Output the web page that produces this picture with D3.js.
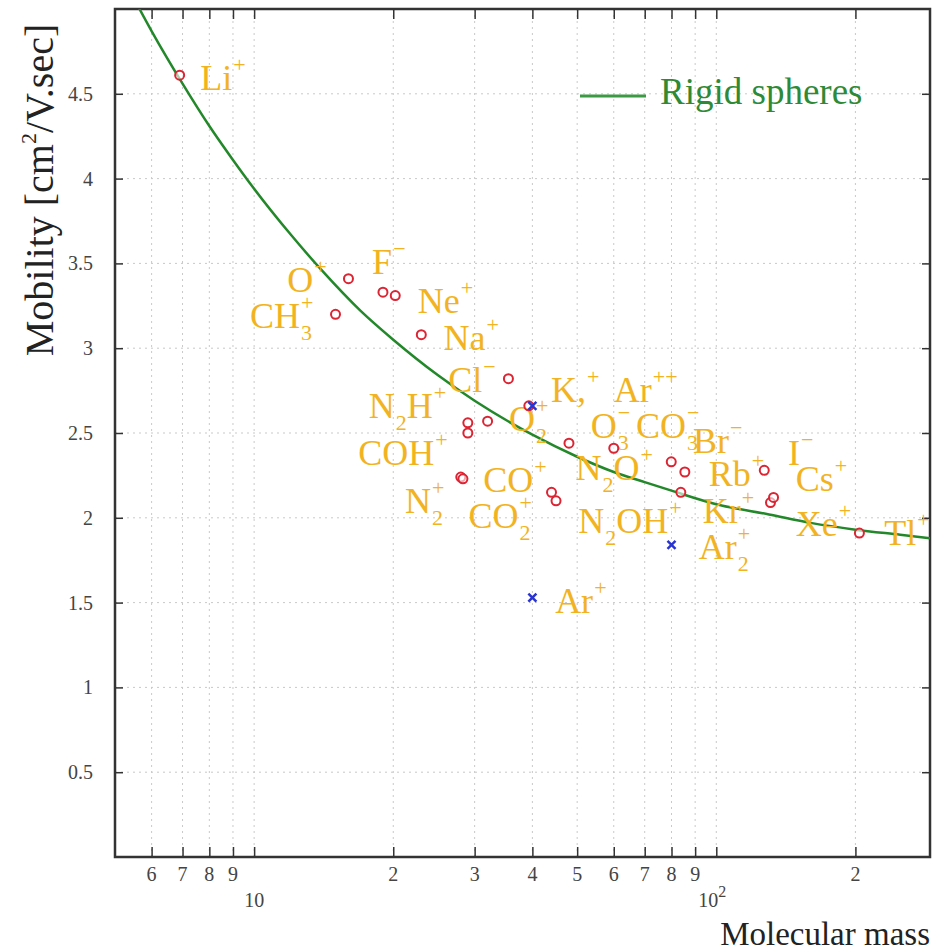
<!DOCTYPE html>
<html>
<head>
<meta charset="utf-8">
<script src="https://cdn.jsdelivr.net/npm/d3@7"></script>
<style>
body { margin: 0; background: #fff; }
text { font-family: "Liberation Serif", "DejaVu Serif", serif; }
</style>
</head>
<body>
<div id="chart"></div>
<script>
var svgWidth = 933;
var svgHeight = 952;
var margin = {top: 9, right: 3, bottom: 95, left: 115};

// rigid spheres curve
var curveMass = [5.4, 6, 7, 8, 9, 10, 12, 14, 17, 20, 25, 30, 40, 50, 60, 70, 80, 100, 130, 160, 200, 250, 290];
var curveMobility = [5.1, 4.87, 4.56, 4.31, 4.11, 3.94, 3.67, 3.46, 3.22, 3.05, 2.84, 2.69, 2.49, 2.36, 2.27, 2.21, 2.16, 2.08, 2.02, 1.97, 1.93, 1.90, 1.88];

// measured ions (red circles)
var ionMass = [6.9, 15, 16, 19, 20.2, 23, 28, 28.3, 29, 29, 32, 35.5, 39.3, 44, 45, 48, 60, 79.9, 85.5, 83.8, 127, 131, 133, 204];
var ionMobility = [4.61, 3.20, 3.41, 3.33, 3.31, 3.08, 2.24, 2.23, 2.56, 2.50, 2.57, 2.82, 2.66, 2.15, 2.10, 2.44, 2.41, 2.33, 2.27, 2.15, 2.28, 2.09, 2.12, 1.91];

// argon ions (blue crosses)
var argonMass = [40, 40, 80];
var argonMobility = [2.66, 1.53, 1.84];

// labels: _ = subscript, ^ = superscript
var labelText = ["Li^+", "O^+", "F^-", "CH_3^+", "Ne^+", "Na^+", "Cl^-", "N_2H^+", "K,^+", "Ar^{++}",
                 "O_2^+", "COH^+", "CO^+", "N_2^+", "CO_2^+", "O_3^-", "CO_3^-", "Br^-", "N_2O^+", "Rb^+",
                 "I^-", "Cs^+", "N_2OH^+", "Kr^+", "Xe^+", "Tl^+", "Ar_2^+", "Ar^+"];
var labelMass = [7.65, 11.8, 18.0, 9.8, 22.6, 25.7, 26.3, 17.7, 43.9, 60,
                 35.6, 16.8, 31.3, 21.2, 29.1, 53.5, 67, 89, 49.6, 96.3,
                 143, 148.6, 50.3, 93.5, 148.6, 231, 91.6, 44.8];
var labelMobility = [4.52, 3.33, 3.44, 3.12, 3.21, 2.99, 2.74, 2.59, 2.68, 2.68,
                     2.51, 2.31, 2.15, 2.03, 1.94, 2.47, 2.47, 2.38, 2.22, 2.19,
                     2.31, 2.16, 1.91, 1.97, 1.89, 1.84, 1.76, 1.44];

var xTicks = [6, 7, 8, 9, 10, 20, 30, 40, 50, 60, 70, 80, 90, 100, 200];
var xMinorLabels = ["6", "7", "8", "9", "", "2", "3", "4", "5", "6", "7", "8", "9", "", "2"];
var yTicks = [0.5, 1, 1.5, 2, 2.5, 3, 3.5, 4, 4.5];

var labelColor = "#f2b322";
var green = "#23882a";

var svg = d3.select("#chart")
    .append("svg")
    .attr("width", svgWidth)
    .attr("height", svgHeight);

var x = d3.scaleLog()
    .domain([5, 290])
    .range([margin.left, svgWidth - margin.right]);

var y = d3.scaleLinear()
    .domain([0, 5])
    .range([svgHeight - margin.bottom, margin.top]);

var x0 = margin.left, x1 = svgWidth - margin.right;
var y0 = svgHeight - margin.bottom, y1 = margin.top;

// dotted grid
svg.selectAll(".vgrid")
    .data(xTicks)
    .enter()
    .append("line")
    .attr("x1", function(d) { return x(d); })
    .attr("x2", function(d) { return x(d); })
    .attr("y1", y0)
    .attr("y2", y1)
    .attr("stroke", "#c9c9c9")
    .attr("stroke-dasharray", "2,4");

svg.selectAll(".hgrid")
    .data(yTicks)
    .enter()
    .append("line")
    .attr("x1", x0)
    .attr("x2", x1)
    .attr("y1", function(d) { return y(d); })
    .attr("y2", function(d) { return y(d); })
    .attr("stroke", "#c9c9c9")
    .attr("stroke-dasharray", "2,4");

// inward ticks on all four sides
svg.append("g")
    .attr("transform", "translate(0," + y0 + ")")
    .call(d3.axisBottom(x).tickValues(xTicks).tickSize(-10).tickFormat(""))
    .call(function(g) { g.select(".domain").remove(); });
svg.append("g")
    .attr("transform", "translate(0," + y1 + ")")
    .call(d3.axisTop(x).tickValues(xTicks).tickSize(-10).tickFormat(""))
    .call(function(g) { g.select(".domain").remove(); });
svg.append("g")
    .attr("transform", "translate(" + x0 + ",0)")
    .call(d3.axisLeft(y).tickValues(yTicks).tickSize(-8).tickPadding(22).tickFormat(d3.format("")))
    .call(function(g) { g.select(".domain").remove(); })
    .call(function(g) {
        g.selectAll("text").attr("font-size", "20px").attr("fill", "#444")
            .style("font-family", "'Liberation Serif', serif");
    });
svg.append("g")
    .attr("transform", "translate(" + x1 + ",0)")
    .call(d3.axisRight(y).tickValues(yTicks).tickSize(-8).tickFormat(""))
    .call(function(g) { g.select(".domain").remove(); });
svg.selectAll(".tick line").attr("stroke", "#333").attr("stroke-width", 1.5);

// x tick labels: minor digits, then the decades lower
svg.selectAll(".xminor")
    .data(xTicks)
    .enter()
    .append("text")
    .attr("x", function(d) { return x(d); })
    .attr("y", y0 + 24)
    .attr("text-anchor", "middle")
    .attr("font-size", "20px")
    .attr("fill", "#444")
    .text(function(d, i) { return xMinorLabels[i]; });

svg.append("text")
    .attr("x", x(10))
    .attr("y", y0 + 50)
    .attr("text-anchor", "middle")
    .attr("font-size", "20px")
    .attr("fill", "#444")
    .text("10");

var dec = svg.append("text")
    .attr("x", x(100) - 4)
    .attr("y", y0 + 50)
    .attr("text-anchor", "middle")
    .attr("font-size", "20px")
    .attr("fill", "#444");
dec.append("tspan").text("10");
dec.append("tspan").attr("dy", -10).attr("font-size", "16px").text("2");

// frame
svg.append("rect")
    .attr("x", x0)
    .attr("y", y1)
    .attr("width", x1 - x0)
    .attr("height", y0 - y1)
    .attr("fill", "none")
    .attr("stroke", "#333")
    .attr("stroke-width", 2.5);

// axis titles
svg.append("text")
    .attr("x", x1)
    .attr("y", 945)
    .attr("text-anchor", "end")
    .attr("font-size", "33px")
    .attr("fill", "#222")
    .text("Molecular mass");

var ytitle = svg.append("text")
    .attr("transform", "translate(53,190) rotate(-90)")
    .attr("text-anchor", "middle")
    .attr("font-size", "40px")
    .attr("fill", "#222");
ytitle.append("tspan").text("Mobility [cm");
ytitle.append("tspan").attr("dy", -17).attr("font-size", "22px").text("2");
ytitle.append("tspan").attr("dy", 17).text("/V.sec]");

// rigid spheres curve
var curveData = curveMass.map(function(m, i) { return [m, curveMobility[i]]; });
svg.append("defs").append("clipPath").attr("id", "plotclip")
    .append("rect").attr("x", x0).attr("y", y1).attr("width", x1 - x0).attr("height", y0 - y1);
svg.append("path")
    .datum(curveData)
    .attr("clip-path", "url(#plotclip)")
    .attr("d", d3.line()
        .x(function(d) { return x(d[0]); })
        .y(function(d) { return y(d[1]); })
        .curve(d3.curveMonotoneX))
    .attr("fill", "none")
    .attr("stroke", green)
    .attr("stroke-width", 2.5);

// legend
svg.append("line")
    .attr("x1", 580).attr("x2", 646)
    .attr("y1", 96).attr("y2", 96)
    .attr("stroke", "#3c9a44")
    .attr("stroke-width", 3);
svg.append("text")
    .attr("x", 660)
    .attr("y", 104)
    .attr("font-size", "37px")
    .attr("fill", "#2e8a36")
    .text("Rigid spheres");

// labels with stacked sub/superscripts
function parseLabel(s) {
    var parts = [], i = 0;
    while (i < s.length) {
        var c = s[i];
        if (c === "_" || c === "^") {
            var txt;
            if (s[i + 1] === "{") {
                var j = s.indexOf("}", i);
                txt = s.slice(i + 2, j);
                i = j + 1;
            } else {
                txt = s[i + 1];
                i += 2;
            }
            parts.push({type: c, text: txt});
        } else {
            var k = i;
            while (k < s.length && s[k] !== "_" && s[k] !== "^") k++;
            parts.push({type: "n", text: s.slice(i, k)});
            i = k;
        }
    }
    return parts;
}

var labels = svg.append("g");
labelText.forEach(function(str, li) {
    var cx = x(labelMass[li]);
    var by = y(labelMobility[li]);
    var parts = parseLabel(str);
    var lastScriptW = 0;
    parts.forEach(function(p, pi) {
        var t = labels.append("text")
            .attr("fill", labelColor)
            .text(p.text.replace("-", "\u2212"));
        if (p.type === "n") {
            t.attr("x", cx).attr("y", by).attr("font-size", "36px");
            cx += t.node().getComputedTextLength();
            lastScriptW = 0;
        } else {
            var prev = parts[pi - 1];
            var stacked = prev && prev.type !== "n" && prev.type !== p.type;
            var sx = stacked ? cx - lastScriptW : cx;
            t.attr("x", sx + 1)
                .attr("y", p.type === "^" ? by - 18 : by + 12)
                .attr("font-size", "22px");
            var w = t.node().getComputedTextLength() + 1;
            if (stacked) {
                cx = sx + Math.max(w, lastScriptW);
            } else {
                cx = sx + w;
            }
            lastScriptW = w;
        }
    });
});

// points
svg.selectAll(".ion")
    .data(ionMass)
    .enter()
    .append("circle")
    .attr("cx", function(d) { return x(d); })
    .attr("cy", function(d, i) { return y(ionMobility[i]); })
    .attr("r", 4.5)
    .attr("fill", "#fff")
    .attr("fill-opacity", 0.6)
    .attr("stroke", "#dc2433")
    .attr("stroke-width", 2);

var cross = 4;
svg.selectAll(".argon")
    .data(argonMass)
    .enter()
    .append("path")
    .attr("d", function(d, i) {
        var px = x(d), py = y(argonMobility[i]);
        return "M" + (px - cross) + "," + (py - cross) + "L" + (px + cross) + "," + (py + cross) +
               "M" + (px - cross) + "," + (py + cross) + "L" + (px + cross) + "," + (py - cross);
    })
    .attr("stroke", "#2a35d0")
    .attr("stroke-width", 2.5)
    .attr("fill", "none");
</script>
</body>
</html>
